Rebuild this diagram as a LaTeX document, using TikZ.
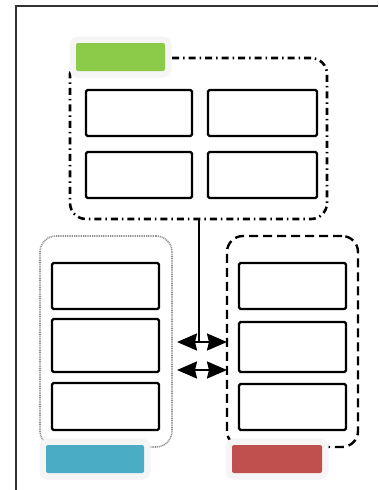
\documentclass[tikz,border=0pt]{standalone}
\usetikzlibrary{arrows.meta}

\definecolor{grpgreen}{HTML}{8CCB4A}
\definecolor{grpblue}{HTML}{4BACC6}
\definecolor{grpred}{HTML}{C0504D}

\begin{document}
\begin{tikzpicture}[
    x=1pt, y=-1pt,
    >={Stealth[length=20pt, width=17pt, inset=2pt]},
    box/.style={draw, line width=2.3pt, rounded corners=1.5pt, inner sep=0pt, outer sep=0pt},
    grpframe/.style={inner sep=0pt, outer sep=0pt, rounded corners=16pt},
    tag/.style={inner sep=0pt, outer sep=0pt, rounded corners=2pt,
        preaction={draw=gray!8, line width=13pt, rounded corners=4pt}}
]
\useasboundingbox (0,0) rectangle (378,490);

% --- Rahmen ---
\draw[line width=2.4pt, black!80] (16,490) -- (16,6) -- (378,6);

% --- Gruppen ---
\node[grpframe, draw, line width=2.6pt, dash pattern=on 7pt off 4pt on 1.5pt off 4pt,
    minimum width=257pt, minimum height=161pt] (grpTop) at (198.5,138.5) {};
\node[grpframe, draw=gray!85, line width=1.6pt, dash pattern=on 1pt off 0.8pt,
    minimum width=132pt, minimum height=211pt] (grpLeft) at (106,341.5) {};
\node[grpframe, draw, line width=2.4pt, dash pattern=on 9pt off 5pt,
    minimum width=131pt, minimum height=211pt] (grpRight) at (292.5,341.5) {};

% --- Kaesten oben ---
\node[box, minimum width=106pt, minimum height=46pt] (top1) at (139,113) {};
\node[box, minimum width=109pt, minimum height=46pt] (top2) at (262.5,113) {};
\node[box, minimum width=106pt, minimum height=46pt] (top3) at (139,175) {};
\node[box, minimum width=109pt, minimum height=46pt] (top4) at (262.5,175) {};

% --- Kaesten links ---
\node[box, minimum width=107pt, minimum height=46pt] (left1) at (105.5,286) {};
\node[box, minimum width=107pt, minimum height=53pt] (left2) at (105.5,345.5) {};
\node[box, minimum width=107pt, minimum height=47pt] (left3) at (105.5,406.5) {};

% --- Kaesten rechts ---
\node[box, minimum width=107pt, minimum height=46pt] (right1) at (292.5,286) {};
\node[box, minimum width=107pt, minimum height=50pt] (right2) at (292.5,347) {};
\node[box, minimum width=107pt, minimum height=46pt] (right3) at (292.5,407) {};

% --- Verbindungen ---
\coordinate (arrA) at (177,342);
\coordinate (arrB) at (177,370);
\draw[line width=2pt] (grpTop.south) -- (grpTop.south |- arrA);
\draw[<->, line width=2pt] (arrA) -- (arrA -| grpRight.west);
\draw[<->, line width=2pt] (arrB) -- (arrB -| grpRight.west);

% --- Farbige Marken ---
\node[tag, fill=grpgreen, minimum width=89pt, minimum height=28pt] (tagTop) at (120.5,57) {};
\node[tag, fill=grpblue, minimum width=98pt, minimum height=28pt] (tagLeft) at (95,459) {};
\node[tag, fill=grpred, minimum width=90pt, minimum height=28pt] (tagRight) at (277,459) {};

\end{tikzpicture}
\end{document}
